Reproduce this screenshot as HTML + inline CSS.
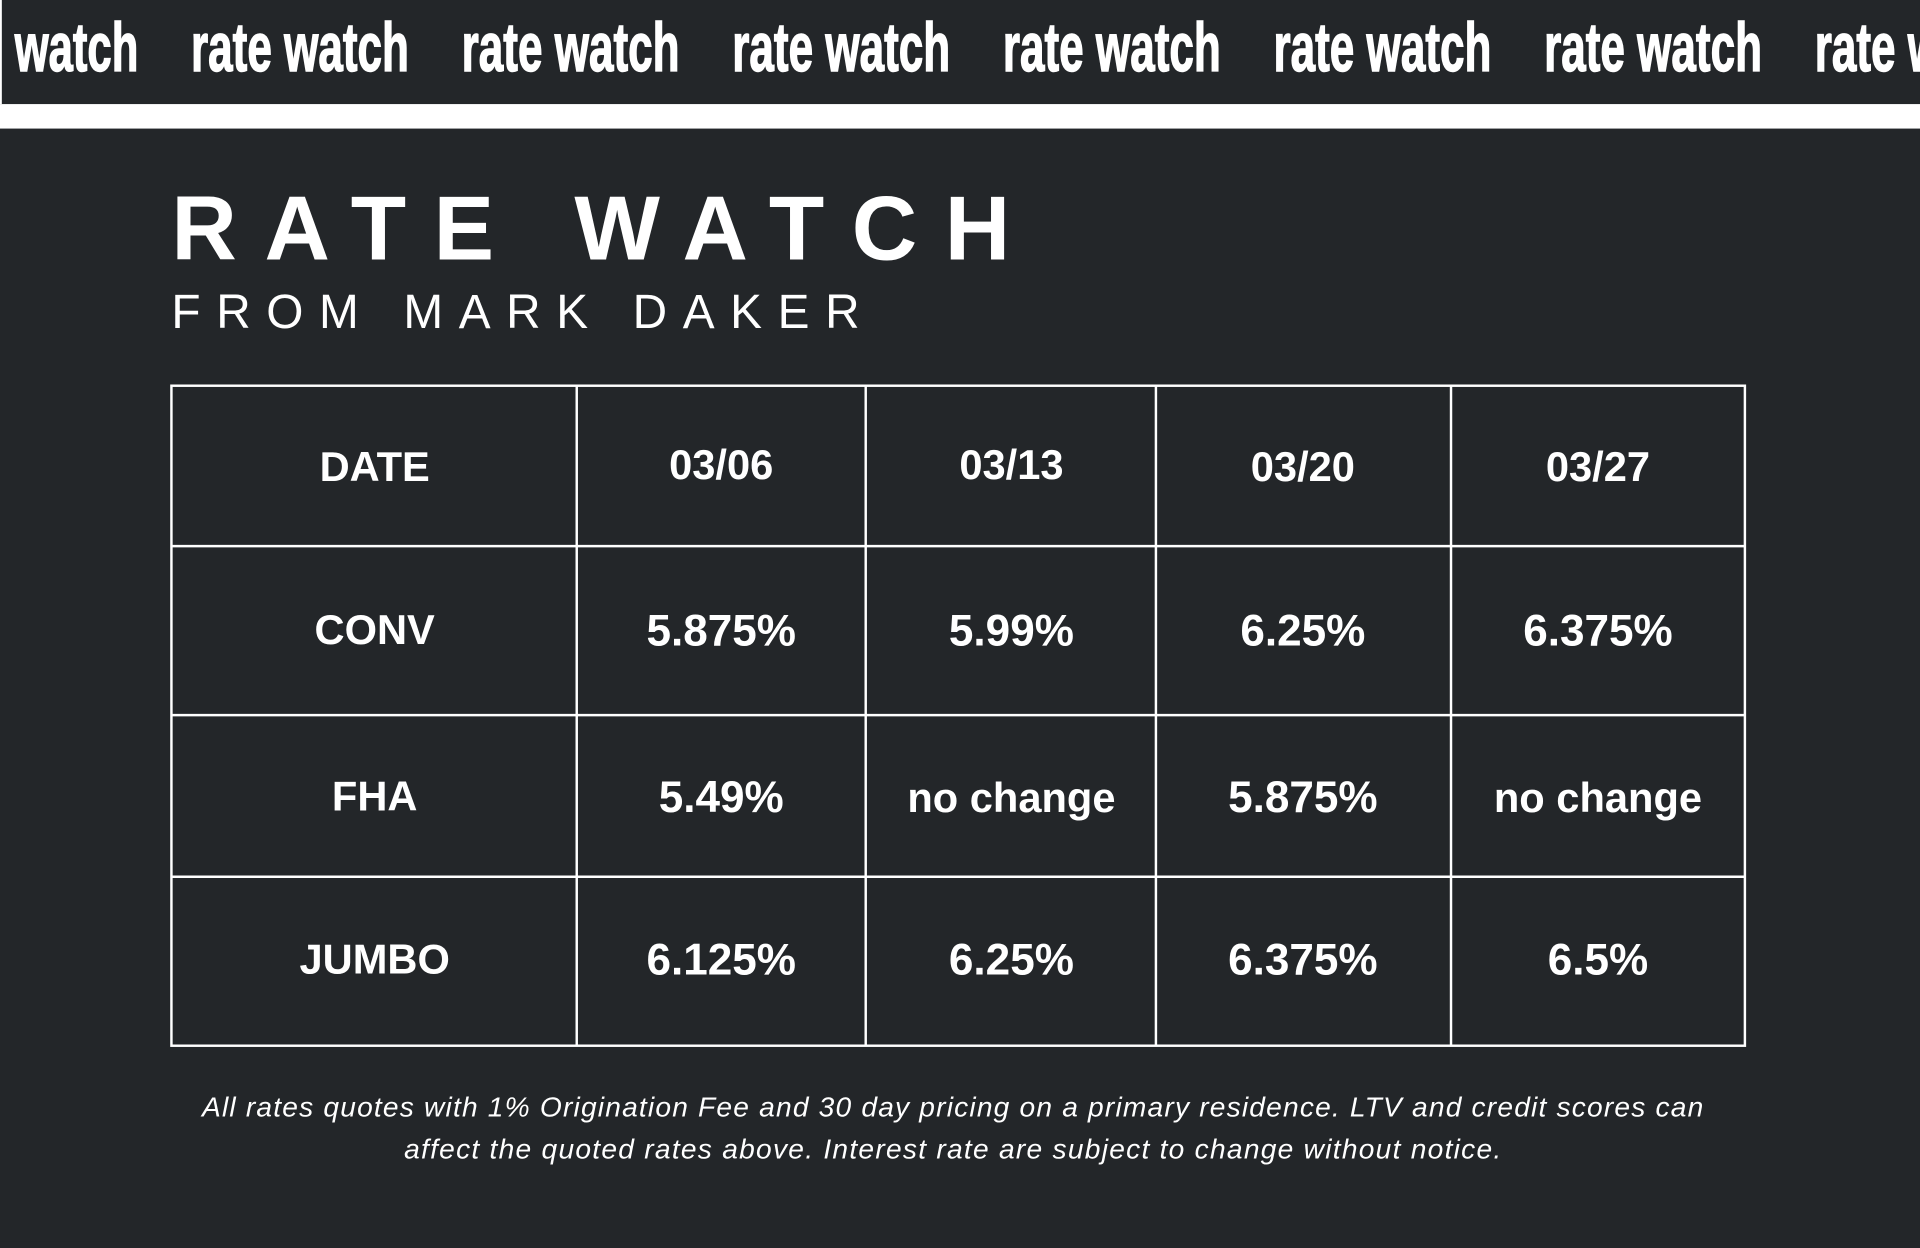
<!DOCTYPE html>
<html><head><meta charset="utf-8">
<style>
html,body{margin:0;padding:0;background:#232629;width:1920px;height:1242px;overflow:hidden}
#wrap{position:absolute;left:0;top:0;width:1568px;height:1014px;transform:scale(1.22449);transform-origin:0 0;background:#232629}
svg text{font-family:"Liberation Sans",sans-serif;fill:#fff}
</style></head>
<body>
<div id="wrap">
<svg width="1568" height="1014" viewBox="0 0 1568 1014">
  <rect x="0" y="0" width="1568" height="1014" fill="#232629"/>
  <g>
    <rect x="0" y="0" width="1568" height="85" fill="#232629"/>
    <rect x="0" y="0" width="1.5" height="85" fill="#fff"/>
    <rect x="0" y="85" width="1568" height="20" fill="#ffffff"/>
    <g font-family="'Liberation Sans Narrow','Liberation Sans',sans-serif" font-weight="bold" font-size="56" stroke="#fff" stroke-width="1.2">
      <text x="12" y="58" textLength="101" lengthAdjust="spacingAndGlyphs">watch</text>
      <text x="156" y="58" textLength="178" lengthAdjust="spacingAndGlyphs">rate watch</text>
      <text x="377" y="58" textLength="178" lengthAdjust="spacingAndGlyphs">rate watch</text>
      <text x="598" y="58" textLength="178" lengthAdjust="spacingAndGlyphs">rate watch</text>
      <text x="819" y="58" textLength="178" lengthAdjust="spacingAndGlyphs">rate watch</text>
      <text x="1040" y="58" textLength="178" lengthAdjust="spacingAndGlyphs">rate watch</text>
      <text x="1261" y="58" textLength="178" lengthAdjust="spacingAndGlyphs">rate watch</text>
      <text x="1482" y="58" textLength="178" lengthAdjust="spacingAndGlyphs">rate watch</text>
    </g>
  </g>
  <text x="140" y="212" font-size="74" font-weight="bold" textLength="685" lengthAdjust="spacing">RATE WATCH</text>
  <text x="140" y="268" font-size="39" textLength="562" lengthAdjust="spacing">FROM MARK DAKER</text>

  <g stroke="#fff" stroke-width="2" fill="none">
    <rect x="140" y="315" width="1285" height="539"/>
    <line x1="471" y1="315" x2="471" y2="854"/>
    <line x1="707" y1="315" x2="707" y2="854"/>
    <line x1="944" y1="315" x2="944" y2="854"/>
    <line x1="1185" y1="315" x2="1185" y2="854"/>
    <line x1="140" y1="446" x2="1425" y2="446"/>
    <line x1="140" y1="584" x2="1425" y2="584"/>
    <line x1="140" y1="716" x2="1425" y2="716"/>
  </g>
  <g font-size="36" font-weight="bold" text-anchor="middle">
    <text x="306" y="393" font-size="34">DATE</text>
    <text x="589" y="391" font-size="34">03/06</text>
    <text x="826" y="391" font-size="34">03/13</text>
    <text x="1064" y="393" font-size="34">03/20</text>
    <text x="1305" y="393" font-size="34">03/27</text>

    <text x="306" y="526" font-size="34">CONV</text>
    <text x="589" y="527">5.875%</text>
    <text x="826" y="527">5.99%</text>
    <text x="1064" y="527">6.25%</text>
    <text x="1305" y="527">6.375%</text>

    <text x="306" y="662" font-size="34">FHA</text>
    <text x="589" y="663">5.49%</text>
    <text x="826" y="663" font-size="34">no change</text>
    <text x="1064" y="663">5.875%</text>
    <text x="1305" y="663" font-size="34">no change</text>

    <text x="306" y="795" font-size="34">JUMBO</text>
    <text x="589" y="796">6.125%</text>
    <text x="826" y="796">6.25%</text>
    <text x="1064" y="796">6.375%</text>
    <text x="1305" y="796">6.5%</text>
  </g>

  <g font-size="23" font-style="italic" text-anchor="middle">
    <text x="778" y="912" textLength="1226" lengthAdjust="spacing">All rates quotes with 1% Origination Fee and 30 day pricing on a primary residence. LTV and credit scores can</text>
    <text x="778" y="946" textLength="896" lengthAdjust="spacing">affect the quoted rates above. Interest rate are subject to change without notice.</text>
  </g>
</svg>
</div>
</body></html>
